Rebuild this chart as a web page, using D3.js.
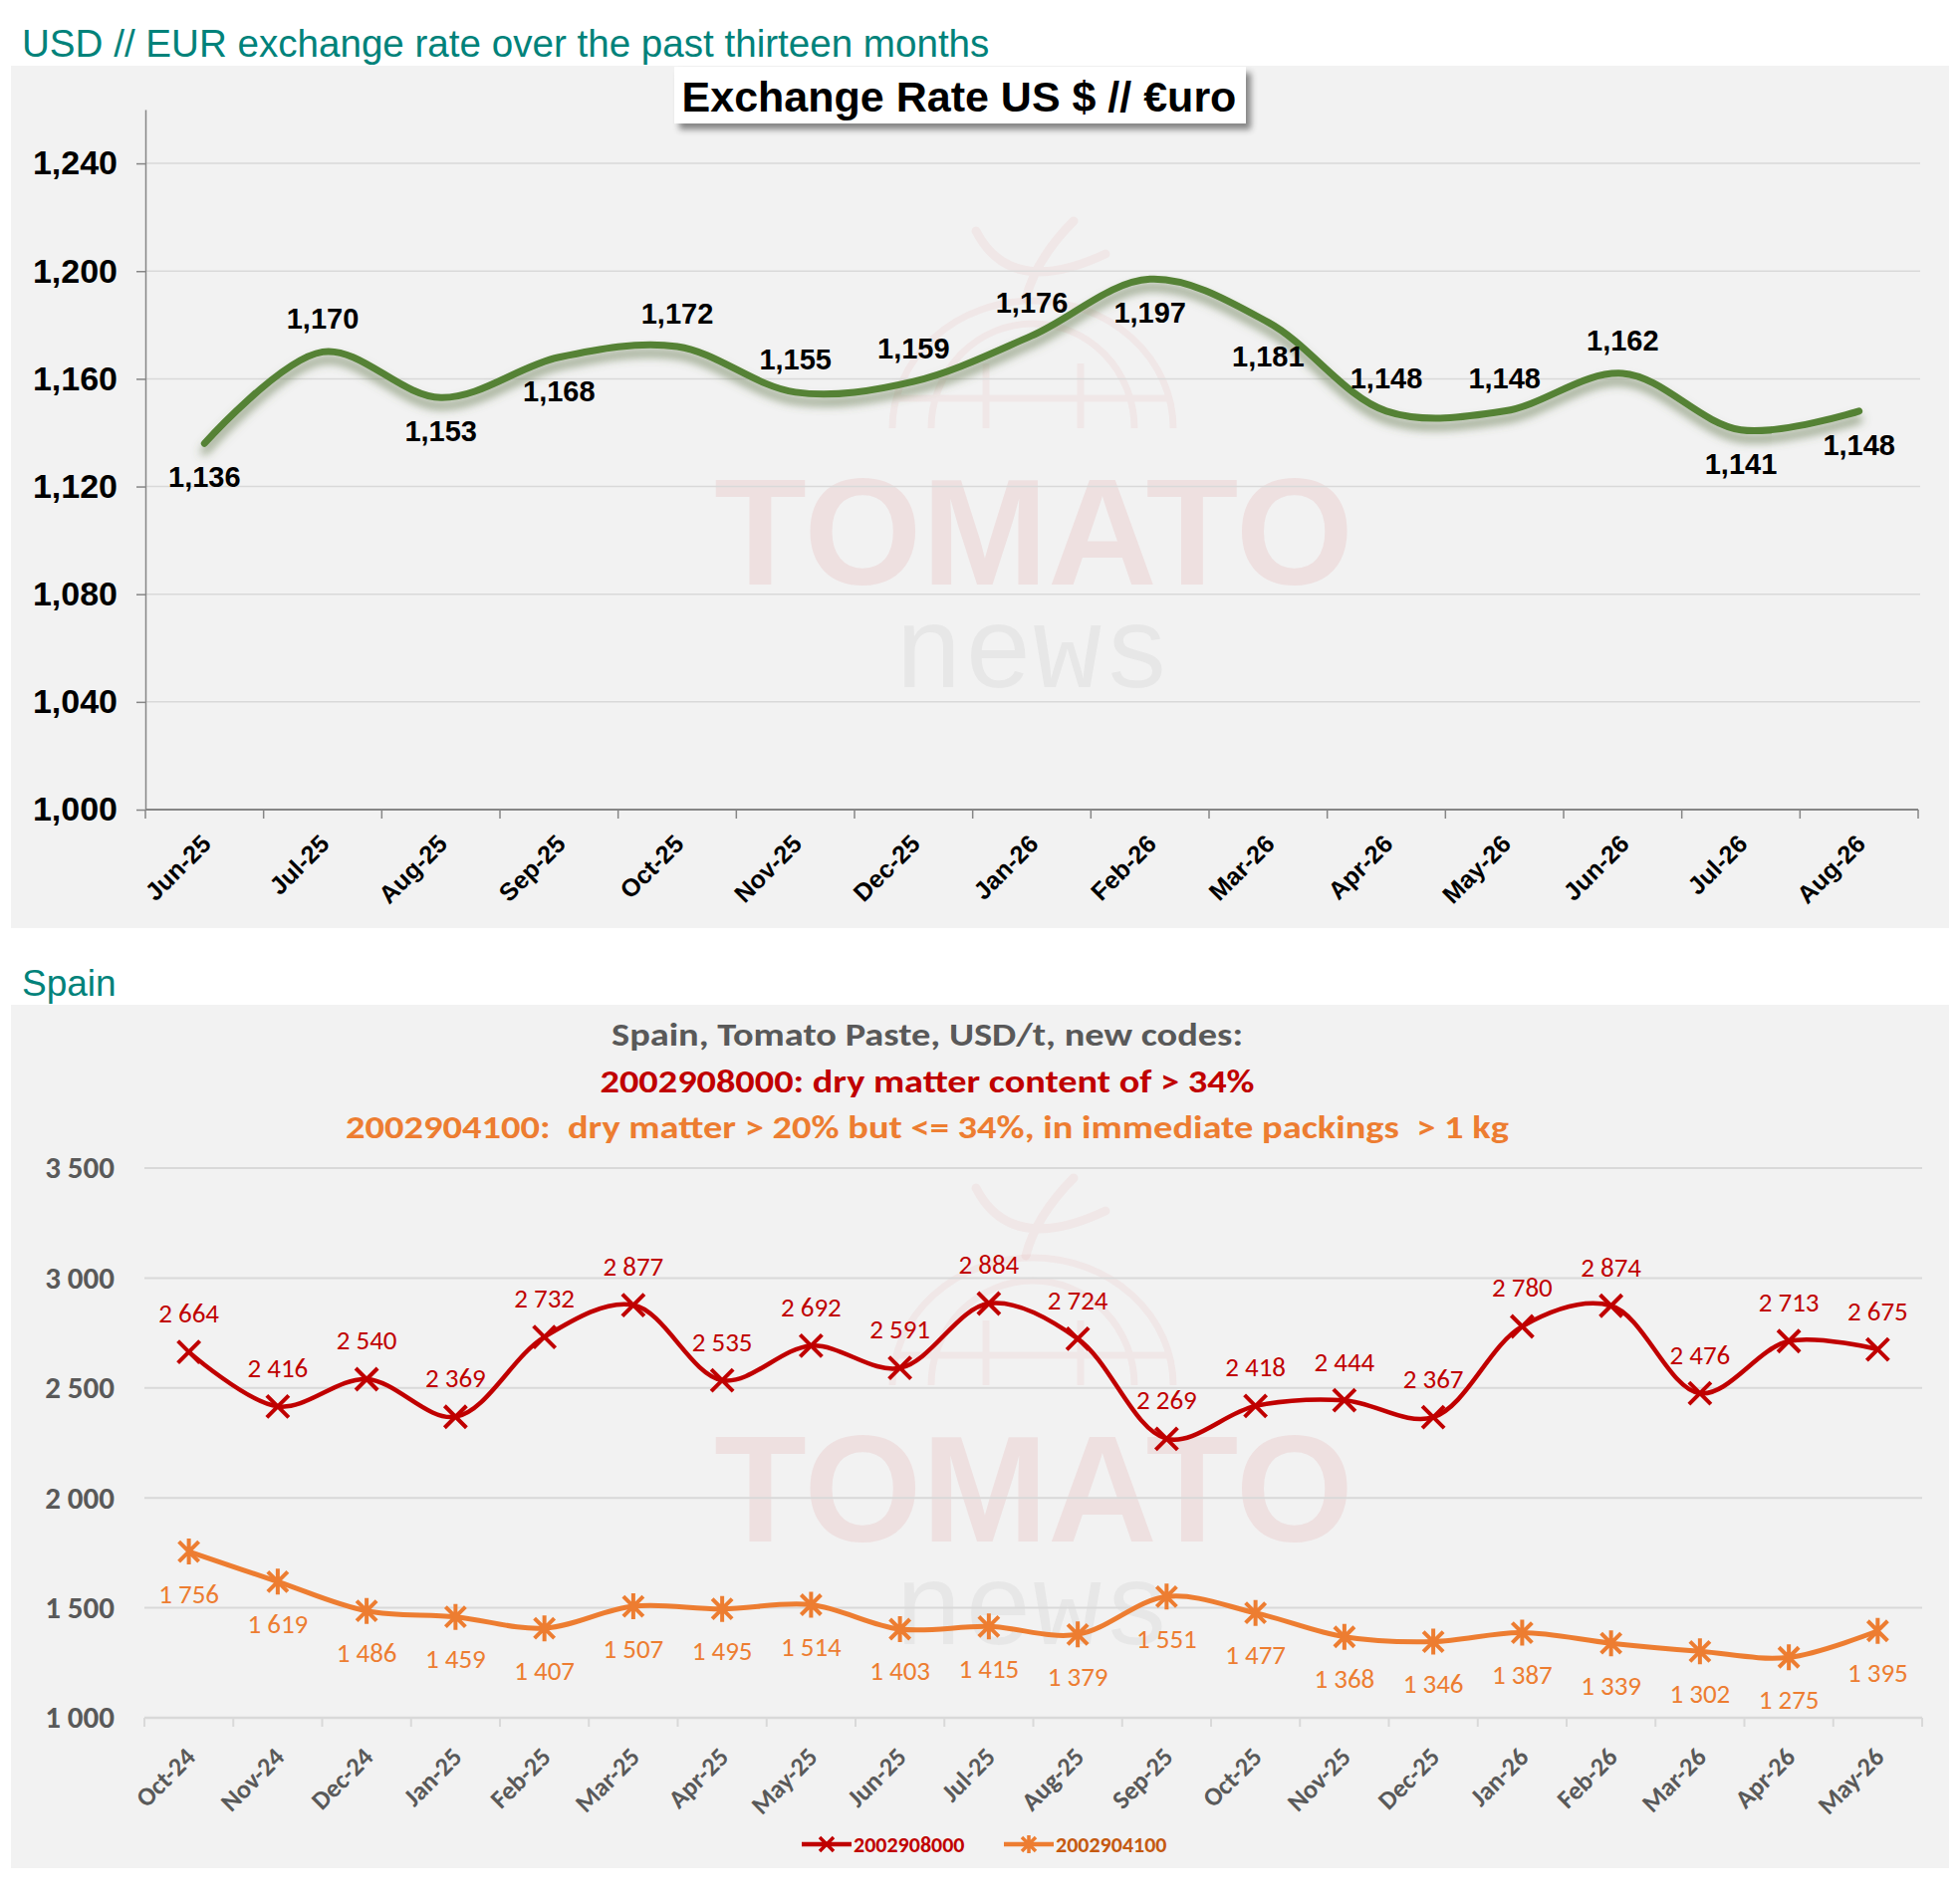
<!DOCTYPE html>
<html>
<head>
<meta charset="utf-8">
<script src="https://cdn.jsdelivr.net/npm/d3@7"></script>
<style>
  body { margin: 0; background: #fff; }
  svg { display: block; }
</style>
</head>
<body>
<svg id="page" width="1968" height="1910"></svg>
<script>
// --- exchange rate chart data
const rateMonths = ["Jun-25", "Jul-25", "Aug-25", "Sep-25", "Oct-25", "Nov-25", "Dec-25", "Jan-26",
  "Feb-26", "Mar-26", "Apr-26", "May-26", "Jun-26", "Jul-26", "Aug-26"];
const rateValues = [1.136, 1.170, 1.153, 1.168, 1.172, 1.155, 1.159, 1.176,
  1.197, 1.181, 1.148, 1.148, 1.162, 1.141, 1.148];
const rateLabelSide = ["below", "above", "below", "below", "above", "above", "above", "above",
  "below", "below", "above", "above", "above", "below", "below"];
const rateTicks = [1.000, 1.040, 1.080, 1.120, 1.160, 1.200, 1.240];

// --- Spain tomato paste chart data
const spainMonths = ["Oct-24", "Nov-24", "Dec-24", "Jan-25", "Feb-25", "Mar-25", "Apr-25", "May-25",
  "Jun-25", "Jul-25", "Aug-25", "Sep-25", "Oct-25", "Nov-25", "Dec-25", "Jan-26", "Feb-26",
  "Mar-26", "Apr-26", "May-26"];
const paste34 = [2664, 2416, 2540, 2369, 2732, 2877, 2535, 2692, 2591, 2884, 2724, 2269,
  2418, 2444, 2367, 2780, 2874, 2476, 2713, 2675];
const paste20 = [1756, 1619, 1486, 1459, 1407, 1507, 1495, 1514, 1403, 1415, 1379, 1551,
  1477, 1368, 1346, 1387, 1339, 1302, 1275, 1395];
const spainTicks = [1000, 1500, 2000, 2500, 3000, 3500];
const spainSeries = ["2002908000", "2002904100"];

const ARIAL = "Arial, 'Liberation Sans', sans-serif";
const CALIBRI = "Calibri, Carlito, Lato, sans-serif";
const RED = "#c00000", ORANGE = "#ed7d31", GREEN = "#548235", TEAL = "#00827a";

const loc = d3.formatLocale({decimal: ",", thousands: "\u00a0", grouping: [3], currency: ["", ""]});
const fmtRate = loc.format(".3f");
const fmtTon = loc.format(",d");

const svg = d3.select("#page");
const defs = svg.append("defs");

let f = defs.append("filter").attr("id", "greenShadow")
  .attr("x", "-5%").attr("y", "-30%").attr("width", "110%").attr("height", "160%");
f.append("feDropShadow").attr("dx", 0).attr("dy", 8).attr("stdDeviation", 5)
  .attr("flood-color", "#5f7346").attr("flood-opacity", 0.7);

f = defs.append("filter").attr("id", "boxShadow")
  .attr("x", "-5%").attr("y", "-30%").attr("width", "115%").attr("height", "170%");
f.append("feDropShadow").attr("dx", 5).attr("dy", 6).attr("stdDeviation", 3)
  .attr("flood-color", "#000").attr("flood-opacity", 0.45);

// faint "TOMATO news" watermark, dy shifts it down for the second panel
function watermark(g, dy) {
  const w = g.append("g").attr("transform", `translate(0,${dy})`);
  const pink = "rgba(200,0,0,0.07)";
  const faint = "rgba(200,0,0,0.045)";
  w.append("path")
    .attr("d", "M896,430 A141,128 0 0 1 1178,430 M935,430 A102,105 0 0 1 1139,430 M990,430 L990,365 M1085,430 L1085,365 M900,400 L1174,400")
    .attr("fill", "none").attr("stroke", faint).attr("stroke-width", 7);
  w.append("path")
    .attr("d", "M980,232 Q1015,300 1110,255 M1078,222 Q1040,260 1030,300")
    .attr("fill", "none").attr("stroke", faint).attr("stroke-width", 9).attr("stroke-linecap", "round");
  w.append("text").attr("x", 1038).attr("y", 587).attr("text-anchor", "middle")
    .attr("font-family", ARIAL).attr("font-weight", "bold").attr("font-size", 152)
    .attr("fill", pink).text("TOMATO");
  w.append("text").attr("x", 1037).attr("y", 690).attr("text-anchor", "middle")
    .attr("font-family", "'Courier New', 'Liberation Mono', monospace").attr("font-size", 116)
    .attr("fill", "rgba(0,0,0,0.045)").text("news");
}

// ================= top: exchange rate =================
svg.append("text").attr("x", 22).attr("y", 57)
  .attr("font-family", ARIAL).attr("font-size", 38.6).attr("fill", TEAL)
  .text("USD // EUR exchange rate over the past thirteen months");

const rate = svg.append("g");
rate.append("rect").attr("x", 11).attr("y", 66).attr("width", 1946).attr("height", 866).attr("fill", "#f2f2f2");
watermark(rate, 0);

const xR = d3.scaleBand().domain(rateMonths).range([146, 1926]);
const yR = d3.scaleLinear().domain([1.0, 1.26]).range([813, 110]);
const cxR = m => xR(m) + xR.bandwidth() / 2;

rate.append("g").selectAll("line").data(rateTicks.slice(1)).join("line")
  .attr("x1", 146).attr("x2", 1928)
  .attr("y1", d => yR(d)).attr("y2", d => yR(d))
  .attr("stroke", "#d9d9d9").attr("stroke-width", 1.5);

const yAxR = rate.append("g").attr("transform", "translate(146,0)")
  .call(d3.axisLeft(yR).tickValues(rateTicks).tickFormat(fmtRate)
    .tickSize(9).tickSizeOuter(0).tickPadding(19));
yAxR.select(".domain").attr("stroke", "#868686").attr("stroke-width", 1.5);
yAxR.selectAll(".tick line").attr("stroke", "#868686").attr("stroke-width", 1.5);
yAxR.selectAll(".tick text")
  .attr("font-family", ARIAL).attr("font-size", 34).attr("font-weight", "bold").attr("fill", "#000");

const xAxR = rate.append("g").attr("transform", "translate(0,813)");
xAxR.append("line").attr("x1", 146).attr("x2", 1926).attr("stroke", "#868686").attr("stroke-width", 2);
xAxR.selectAll(".tk").data(rateMonths.map(m => xR(m)).concat([xR.range()[1]])).join("line")
  .attr("class", "tk").attr("x1", d => d).attr("x2", d => d).attr("y1", 0).attr("y2", 9)
  .attr("stroke", "#868686").attr("stroke-width", 1.5);
xAxR.selectAll(".lbl").data(rateMonths).join("text")
  .attr("class", "lbl")
  .attr("transform", d => `translate(${cxR(d) + 8},36) rotate(-45)`)
  .attr("text-anchor", "end")
  .attr("font-family", ARIAL).attr("font-size", 25).attr("font-weight", "bold").attr("fill", "#000")
  .text(d => d);

const lineR = d3.line()
  .x((d, i) => cxR(rateMonths[i]))
  .y(d => yR(d))
  .curve(d3.curveCatmullRom.alpha(0.5));
rate.append("path").datum(rateValues)
  .attr("d", lineR).attr("fill", "none")
  .attr("stroke", GREEN).attr("stroke-width", 7).attr("stroke-linecap", "round")
  .attr("filter", "url(#greenShadow)");

rate.append("g").selectAll("text").data(rateValues).join("text")
  .attr("x", (d, i) => cxR(rateMonths[i]))
  .attr("y", (d, i) => yR(d) + (rateLabelSide[i] === "above" ? -33 : 34))
  .attr("dy", "0.35em").attr("text-anchor", "middle")
  .attr("font-family", ARIAL).attr("font-size", 29).attr("font-weight", "bold").attr("fill", "#000")
  .text(d => fmtRate(d));

rate.append("rect").attr("x", 677).attr("y", 67).attr("width", 574).attr("height", 57)
  .attr("fill", "#fff").attr("filter", "url(#boxShadow)");
rate.append("text").attr("x", 963).attr("y", 112).attr("text-anchor", "middle")
  .attr("font-family", ARIAL).attr("font-size", 43).attr("font-weight", "bold").attr("fill", "#000")
  .text("Exchange Rate US $ // €uro");

// ================= bottom: Spain =================
svg.append("text").attr("x", 22).attr("y", 1000)
  .attr("font-family", ARIAL).attr("font-size", 37).attr("fill", TEAL)
  .text("Spain");

const bot = svg.append("g");
bot.append("rect").attr("x", 11).attr("y", 1009).attr("width", 1946).attr("height", 867).attr("fill", "#f2f2f2");
watermark(bot, 961);

const titleLines = [
  {text: "Spain, Tomato Paste, USD/t, new codes:", color: "#595959", y: 1050, w: 634},
  {text: "2002908000: dry matter content of > 34%", color: RED, y: 1097, w: 657},
  {text: "2002904100:  dry matter > 20% but <= 34%, in immediate packings  > 1 kg", color: ORANGE, y: 1143, w: 1168}
];
bot.append("g").selectAll("text").data(titleLines).join("text")
  .attr("x", 931).attr("y", d => d.y).attr("text-anchor", "middle")
  .attr("font-family", CALIBRI).attr("font-size", 33).attr("font-weight", "bold")
  .attr("fill", d => d.color)
  .attr("textLength", d => d.w).attr("lengthAdjust", "spacingAndGlyphs")
  .style("white-space", "pre")
  .text(d => d.text);

const xS = d3.scaleBand().domain(spainMonths).range([145, 1930]);
const yS = d3.scaleLinear().domain([1000, 3500]).range([1725, 1173]);
const cxS = m => xS(m) + xS.bandwidth() / 2;

bot.append("g").selectAll("line").data(spainTicks.slice(1)).join("line")
  .attr("x1", 145).attr("x2", 1930)
  .attr("y1", d => yS(d)).attr("y2", d => yS(d))
  .attr("stroke", "#d9d9d9").attr("stroke-width", 2);

const yAxS = bot.append("g").attr("transform", "translate(145,0)")
  .call(d3.axisLeft(yS).tickValues(spainTicks).tickFormat(fmtTon).tickSize(0).tickPadding(30));
yAxS.select(".domain").remove();
yAxS.selectAll(".tick text")
  .attr("font-family", CALIBRI).attr("font-size", 31).attr("font-weight", "bold").attr("fill", "#595959");

const xAxS = bot.append("g").attr("transform", "translate(0,1725)");
xAxS.append("line").attr("x1", 145).attr("x2", 1930).attr("stroke", "#d9d9d9").attr("stroke-width", 2.5);
xAxS.selectAll(".tk").data(spainMonths.map(m => xS(m)).concat([xS.range()[1]])).join("line")
  .attr("class", "tk").attr("x1", d => d).attr("x2", d => d).attr("y1", 0).attr("y2", 9)
  .attr("stroke", "#d9d9d9").attr("stroke-width", 2);
xAxS.selectAll(".lbl").data(spainMonths).join("text")
  .attr("class", "lbl")
  .attr("transform", d => `translate(${cxS(d) + 8},41) rotate(-45)`)
  .attr("text-anchor", "end")
  .attr("font-family", CALIBRI).attr("font-size", 26).attr("font-weight", "bold").attr("fill", "#595959")
  .text(d => d);

const markX = s => `M${-s},${-s}L${s},${s}M${-s},${s}L${s},${-s}`;
const markStar = s => markX(s) + `M0,${-s * 1.3}L0,${s * 1.3}`;

const lineS = d3.line()
  .x((d, i) => cxS(spainMonths[i]))
  .y(d => yS(d))
  .curve(d3.curveCatmullRom.alpha(0.5));

const seriesDefs = [
  {name: spainSeries[0], values: paste34, color: RED, width: 4.5, mark: markX(11), side: -39},
  {name: spainSeries[1], values: paste20, color: ORANGE, width: 5, mark: markStar(10), side: 42}
];

seriesDefs.forEach(s => {
  const g = bot.append("g");
  g.append("path").datum(s.values).attr("d", lineS)
    .attr("fill", "none").attr("stroke", s.color).attr("stroke-width", s.width);
  g.selectAll(".mk").data(s.values).join("path").attr("class", "mk")
    .attr("transform", (d, i) => `translate(${cxS(spainMonths[i])},${yS(d)})`)
    .attr("d", s.mark).attr("fill", "none").attr("stroke", s.color).attr("stroke-width", 4);
  g.selectAll(".vl").data(s.values).join("text").attr("class", "vl")
    .attr("x", (d, i) => cxS(spainMonths[i]))
    .attr("y", d => yS(d) + s.side)
    .attr("dy", "0.35em").attr("text-anchor", "middle")
    .attr("font-family", CALIBRI).attr("font-size", 27).attr("fill", s.color)
    .text(d => fmtTon(d));
});

// legend
const legend = [
  {name: spainSeries[0], color: RED, text: RED, mark: markX(7), x: 805},
  {name: spainSeries[1], color: ORANGE, text: "#c55a11", mark: markStar(7), x: 1008}
];
const lg = bot.append("g").attr("transform", "translate(0,1852)");
legend.forEach(l => {
  lg.append("line").attr("x1", l.x).attr("x2", l.x + 50).attr("stroke", l.color).attr("stroke-width", 4.5);
  lg.append("path").attr("transform", `translate(${l.x + 25},0)`).attr("d", l.mark)
    .attr("fill", "none").attr("stroke", l.color).attr("stroke-width", 3.5);
  lg.append("text").attr("x", l.x + 52).attr("dy", "0.35em")
    .attr("font-family", CALIBRI).attr("font-size", 22).attr("font-weight", "bold").attr("fill", l.text)
    .text(l.name);
});
</script>
</body>
</html>
